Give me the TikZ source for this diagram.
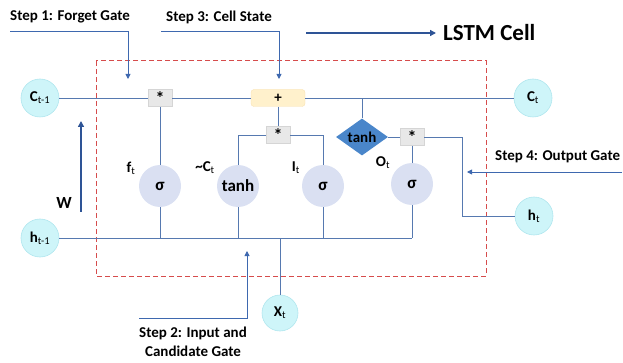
\documentclass[tikz,border=0pt]{standalone}
\usepackage{fontspec}
\setmainfont{Carlito}
\usetikzlibrary{arrows.meta,shapes.geometric,calc}
\definecolor{flowblue}{RGB}{86,121,176}
\definecolor{pointblue}{RGB}{62,104,175}
\definecolor{darkblue}{RGB}{46,84,150}
\definecolor{boxred}{RGB}{214,76,76}
\definecolor{statecyan}{RGB}{206,245,249}
\definecolor{stateedge}{RGB}{176,230,238}
\definecolor{gatefill}{RGB}{218,224,242}
\definecolor{opgray}{RGB}{232,232,232}
\definecolor{addfill}{RGB}{255,241,204}
\definecolor{addedge}{RGB}{248,222,170}
\definecolor{diamondblue}{RGB}{74,134,202}
\tikzset{
  state/.style={circle, fill=statecyan, draw=stateedge, line width=0.6pt, minimum size=38pt, inner sep=0pt, font=\fontsize{15}{17}\selectfont\bfseries},
  gate/.style={circle, fill=gatefill, minimum size=42pt, inner sep=0pt, font=\fontsize{17}{19}\selectfont\bfseries},
  op/.style={rectangle, fill=opgray, draw=opgray!80!black!60, line width=0.3pt, minimum width=24pt, minimum height=17pt, inner sep=0pt, font=\fontsize{18}{18}\selectfont\bfseries},
  flow/.style={draw=flowblue, line width=0.9pt},
  pointer/.style={draw=pointblue, line width=0.9pt, -{Triangle[length=5pt,width=5pt]}},
  bigpointer/.style={draw=darkblue, line width=1.4pt, -{Triangle[length=6pt,width=6pt]}},
  steplabel/.style={font=\fontsize{15}{19}\selectfont\bfseries, inner sep=0pt},
  gatelabel/.style={font=\fontsize{15}{17}\selectfont\bfseries, inner sep=0pt},
}
\newcommand{\sub}[1]{\textsubscript{\mdseries #1}}

\begin{document}
\begin{tikzpicture}[x=1pt, y=-1pt]
  \useasboundingbox (0,0) rectangle (623,363);

  % cell border
  \draw[boxred, line width=1pt, dash pattern=on 5pt off 3pt] (96,61) rectangle (486,276);

  % states
  \node[state] (cprev) at (40,98) {C\sub{t-1}};
  \node[state] (cnext) at (533,98) {C\sub{t}};
  \node[state] (hprev) at (40,238) {h\sub{t-1}};
  \node[state] (hnext) at (534,216) {h\sub{t}};
  \node[state, minimum size=36pt] (xin) at (280,313) {X\sub{t}};

  % operations on the cell state
  \node[op] (fmul) at (160,98) {\raisebox{-3pt}{*}};
  \node[op, rounded corners=3pt, fill=addfill, draw=addedge, minimum width=54pt, font=\fontsize{15}{15}\selectfont\bfseries] (add) at (278,98) {+};
  \node[op] (imul) at (278,135) {\raisebox{-3pt}{*}};
  \node[op] (omul) at (412,137) {\raisebox{-3pt}{*}};
  \node[diamond, fill=diamondblue, aspect=1.4, inner sep=0pt, minimum width=52pt, minimum height=37pt,
        font=\fontsize{15}{17}\selectfont\bfseries] (tanhc) at (362,137) {tanh};

  % gates
  \node[gate] (fgate) at (160,186) {σ};
  \node[gate] (cgate) at (238,186) {tanh};
  \node[gate] (igate) at (323,186) {σ};
  \node[gate] (ogate) at (412,184) {σ};
  \node[gatelabel] (flab) at (131,168) {f\sub{t}};
  \node[gatelabel] (clab) at (205,168) {\textasciitilde C\sub{t}};
  \node[gatelabel] (ilab) at (296,168) {I\sub{t}};
  \node[gatelabel] (olab) at (383,163) {O\sub{t}};

  % cell state line
  \draw[flow] (cprev) -- (fmul);
  \draw[flow] (fmul) -- (add);
  \draw[flow] (add) -- (cnext);
  \draw[flow] (tanhc.north) -- (tanhc.north |- add);
  \draw[flow] (fmul) -- (fgate);
  \draw[flow] (add) -- (imul);
  \draw[flow] (imul) -| (cgate);
  \draw[flow] (imul) -| (igate);
  \draw[flow] (tanhc) -- (omul);
  \draw[flow] (omul) -- (ogate);
  \coordinate (hbend) at (462,216);
  \draw[flow] (omul) -| (hbend) -- (hnext);

  % hidden state and input line
  \draw[flow] (hprev) -- (hprev -| ogate);
  \foreach \g in {fgate,cgate,igate,ogate}
    \draw[flow] (\g) -- (\g |- hprev);
  \draw[flow] (xin) -- (xin |- hprev);

  % weights
  \coordinate (wbot) at (81,212);
  \coordinate (wtop) at (81,121);
  \draw[bigpointer] (wbot) -- (wtop);
  \node[gatelabel, font=\fontsize{17}{19}\selectfont\bfseries] (wlab) at (64,203) {W};

  % steps
  \node[steplabel, anchor=west] (step1) at (10,17) {Step 1: Forget Gate};
  \coordinate (s1a) at (10,31);
  \coordinate (s1b) at (128,79);
  \draw[pointer] (s1a) -| (s1b);

  \node[steplabel, anchor=west] (step3) at (166,17) {Step 3: Cell State};
  \coordinate (s3a) at (161,31);
  \coordinate (s3b) at (279,79);
  \draw[pointer] (s3a) -| (s3b);

  \node[steplabel, anchor=west] (step4) at (495,157) {Step 4: Output Gate};
  \coordinate (s4a) at (622,172);
  \coordinate (s4b) at (467,172);
  \draw[pointer] (s4a) -- (s4b);

  \node[steplabel, align=center] (step2) at (193,342) {Step 2: Input and\\Candidate Gate};
  \coordinate (s2a) at (139,318);
  \coordinate (s2b) at (247,251);
  \draw[pointer] (s2a) -| (s2b);

  \node[font=\fontsize{23}{27}\selectfont\bfseries, anchor=west, inner sep=0pt] (title) at (443,33) {LSTM Cell};
  \coordinate (ta) at (306,33);
  \coordinate (tb) at (436,33);
  \draw[bigpointer] (ta) -- (tb);
\end{tikzpicture}
\end{document}
